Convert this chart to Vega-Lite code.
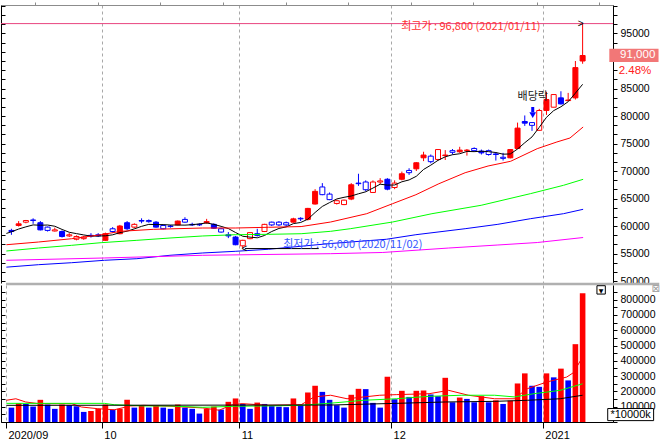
{
  "$schema": "https://vega.github.io/schema/vega-lite/v6.json",
  "autosize": {"type": "pad"},
  "padding": 0,
  "background": "#ffffff",
  "spacing": 2,
  "bounds": "flush",
  "resolve": {"scale": {"color": "independent", "stroke": "independent"}},
  "config": {
    "view": {"stroke": null},
    "font": "Liberation Sans",
    "axis": {"labelFont": "Liberation Sans", "labelColor": "#000000", "domainColor": "#000000", "tickColor": "#000000"}
  },
  "datasets": {
    "candles": [
      {"t":0,"d":"2020-09-11","o":59200,"h":59500,"l":58400,"c":59000,"v":94000},
      {"t":1,"d":"2020-09-14","o":60100,"h":60900,"l":59900,"c":60400,"v":123000},
      {"t":2,"d":"2020-09-15","o":60700,"h":61100,"l":60500,"c":61000,"v":118000},
      {"t":3,"d":"2020-09-16","o":61100,"h":61400,"l":60400,"c":61000,"v":101000},
      {"t":4,"d":"2020-09-17","o":60600,"h":60900,"l":59200,"c":59300,"v":145000},
      {"t":5,"d":"2020-09-18","o":59800,"h":59900,"l":59000,"c":59200,"v":114000},
      {"t":6,"d":"2020-09-21","o":59100,"h":59700,"l":59000,"c":59300,"v":86000},
      {"t":7,"d":"2020-09-22","o":59000,"h":59200,"l":57900,"c":58100,"v":114000},
      {"t":8,"d":"2020-09-23","o":58200,"h":58700,"l":58000,"c":58400,"v":110000},
      {"t":9,"d":"2020-09-24","o":57600,"h":58300,"l":57400,"c":58100,"v":103000},
      {"t":10,"d":"2020-09-25","o":57700,"h":58200,"l":57500,"c":58000,"v":66000},
      {"t":11,"d":"2020-09-28","o":58300,"h":58700,"l":57900,"c":58200,"v":72000},
      {"t":12,"d":"2020-09-29","o":58400,"h":58700,"l":58000,"c":58200,"v":86000},
      {"t":13,"d":"2020-10-05","o":57400,"h":58800,"l":57300,"c":58600,"v":114000},
      {"t":14,"d":"2020-10-06","o":59500,"h":59800,"l":58800,"c":59000,"v":81000},
      {"t":15,"d":"2020-10-07","o":58600,"h":60200,"l":58500,"c":60000,"v":86000},
      {"t":16,"d":"2020-10-08","o":60600,"h":60900,"l":59300,"c":59500,"v":145000},
      {"t":17,"d":"2020-10-12","o":59800,"h":60500,"l":59600,"c":60300,"v":94000},
      {"t":18,"d":"2020-10-13","o":61000,"h":61400,"l":60500,"c":60900,"v":107000},
      {"t":19,"d":"2020-10-14","o":61000,"h":61200,"l":60600,"c":60800,"v":94000},
      {"t":20,"d":"2020-10-15","o":60700,"h":60900,"l":59700,"c":59800,"v":107000},
      {"t":21,"d":"2020-10-16","o":60100,"h":60300,"l":59400,"c":59500,"v":94000},
      {"t":22,"d":"2020-10-19","o":60000,"h":60200,"l":59700,"c":59900,"v":86000},
      {"t":23,"d":"2020-10-20","o":60200,"h":61000,"l":60100,"c":60900,"v":114000},
      {"t":24,"d":"2020-10-21","o":61200,"h":61600,"l":60600,"c":60700,"v":94000},
      {"t":25,"d":"2020-10-22","o":60300,"h":60600,"l":60000,"c":60200,"v":86000},
      {"t":26,"d":"2020-10-23","o":60300,"h":60500,"l":60000,"c":60200,"v":55000},
      {"t":27,"d":"2020-10-26","o":60600,"h":61300,"l":60400,"c":60800,"v":86000},
      {"t":28,"d":"2020-10-27","o":60300,"h":60500,"l":59500,"c":59600,"v":101000},
      {"t":29,"d":"2020-10-28","o":59500,"h":59700,"l":58800,"c":58900,"v":81000},
      {"t":30,"d":"2020-10-29","o":58400,"h":58900,"l":57800,"c":58200,"v":132000},
      {"t":31,"d":"2020-10-30","o":58000,"h":58200,"l":56500,"c":56600,"v":154000},
      {"t":32,"d":"2020-11-02","o":56400,"h":57500,"l":56000,"c":57400,"v":118000},
      {"t":33,"d":"2020-11-03","o":57700,"h":58900,"l":57600,"c":58800,"v":86000},
      {"t":34,"d":"2020-11-04","o":58600,"h":59500,"l":58100,"c":58300,"v":127000},
      {"t":35,"d":"2020-11-05","o":59000,"h":60400,"l":58900,"c":60300,"v":118000},
      {"t":36,"d":"2020-11-06","o":60700,"h":60800,"l":60000,"c":60200,"v":104000},
      {"t":37,"d":"2020-11-09","o":60700,"h":60900,"l":60000,"c":60200,"v":100000},
      {"t":38,"d":"2020-11-10","o":60600,"h":60800,"l":59900,"c":60200,"v":97000},
      {"t":39,"d":"2020-11-11","o":60700,"h":61500,"l":60600,"c":61300,"v":154000},
      {"t":40,"d":"2020-11-12","o":61400,"h":61600,"l":60900,"c":61300,"v":114000},
      {"t":41,"d":"2020-11-13","o":61200,"h":63300,"l":61000,"c":63200,"v":193000},
      {"t":42,"d":"2020-11-16","o":64000,"h":66700,"l":63900,"c":66300,"v":237000},
      {"t":43,"d":"2020-11-17","o":67100,"h":67800,"l":65600,"c":65700,"v":197000},
      {"t":44,"d":"2020-11-18","o":65800,"h":66100,"l":64700,"c":64800,"v":145000},
      {"t":45,"d":"2020-11-19","o":64100,"h":64800,"l":63900,"c":64600,"v":110000},
      {"t":46,"d":"2020-11-20","o":63900,"h":64800,"l":63800,"c":64700,"v":94000},
      {"t":47,"d":"2020-11-23","o":64900,"h":67800,"l":64700,"c":67500,"v":178000},
      {"t":48,"d":"2020-11-24","o":67800,"h":69500,"l":67300,"c":67700,"v":217000},
      {"t":49,"d":"2020-11-25","o":68000,"h":68300,"l":66300,"c":66600,"v":215000},
      {"t":50,"d":"2020-11-26","o":66100,"h":68300,"l":66000,"c":68000,"v":125000},
      {"t":51,"d":"2020-11-27","o":68000,"h":68700,"l":67600,"c":68200,"v":94000},
      {"t":52,"d":"2020-11-30","o":68500,"h":68700,"l":66500,"c":66700,"v":296000},
      {"t":53,"d":"2020-12-01","o":67000,"h":68300,"l":66700,"c":67800,"v":149000},
      {"t":54,"d":"2020-12-02","o":68500,"h":69900,"l":68300,"c":69500,"v":204000},
      {"t":55,"d":"2020-12-03","o":70100,"h":70500,"l":69300,"c":69700,"v":164000},
      {"t":56,"d":"2020-12-04","o":70400,"h":71600,"l":70000,"c":71500,"v":204000},
      {"t":57,"d":"2020-12-07","o":72400,"h":73500,"l":71800,"c":72900,"v":206000},
      {"t":58,"d":"2020-12-08","o":72700,"h":73000,"l":71400,"c":71700,"v":180000},
      {"t":59,"d":"2020-12-09","o":72100,"h":74000,"l":71900,"c":73900,"v":169000},
      {"t":60,"d":"2020-12-10","o":72800,"h":73800,"l":72000,"c":72900,"v":289000},
      {"t":61,"d":"2020-12-11","o":73700,"h":74000,"l":73000,"c":73400,"v":129000},
      {"t":62,"d":"2020-12-14","o":73500,"h":74400,"l":73300,"c":73800,"v":160000},
      {"t":63,"d":"2020-12-15","o":73700,"h":74000,"l":72800,"c":73800,"v":151000},
      {"t":64,"d":"2020-12-16","o":74100,"h":74300,"l":73500,"c":73700,"v":129000},
      {"t":65,"d":"2020-12-17","o":73600,"h":73900,"l":73000,"c":73300,"v":169000},
      {"t":66,"d":"2020-12-18","o":73700,"h":73900,"l":72800,"c":73000,"v":129000},
      {"t":67,"d":"2020-12-21","o":73100,"h":73400,"l":71900,"c":73000,"v":142000},
      {"t":68,"d":"2020-12-22","o":72500,"h":73300,"l":71900,"c":72300,"v":118000},
      {"t":69,"d":"2020-12-23","o":72400,"h":74000,"l":72300,"c":73900,"v":140000},
      {"t":70,"d":"2020-12-24","o":74100,"h":78800,"l":74000,"c":77800,"v":252000},
      {"t":71,"d":"2020-12-28","o":79000,"h":80100,"l":78200,"c":78700,"v":318000},
      {"t":72,"d":"2020-12-29","o":78800,"h":78900,"l":77300,"c":78300,"v":237000},
      {"t":73,"d":"2020-12-30","o":77400,"h":81300,"l":77300,"c":81000,"v":230000},
      {"t":74,"d":"2021-01-04","o":81000,"h":84400,"l":80200,"c":83000,"v":318000},
      {"t":75,"d":"2021-01-05","o":81600,"h":83900,"l":81600,"c":83900,"v":292000},
      {"t":76,"d":"2021-01-06","o":83300,"h":84500,"l":82100,"c":82200,"v":349000},
      {"t":77,"d":"2021-01-07","o":82800,"h":84200,"l":82700,"c":82900,"v":272000},
      {"t":78,"d":"2021-01-08","o":83300,"h":90000,"l":83000,"c":88800,"v":509000},
      {"t":79,"d":"2021-01-11","o":90000,"h":96800,"l":89500,"c":91000,"v":842000}
    ],
    "ma": [
      {"t":-0.7,"k":"5","v":58650},{"t":0,"k":"5","v":58950},{"t":1,"k":"5","v":59450},{"t":2,"k":"5","v":59850},
      {"t":3,"k":"5","v":60200},{"t":4,"k":"5","v":60140},{"t":5,"k":"5","v":60180},{"t":6,"k":"5","v":59960},
      {"t":7,"k":"5","v":59380},{"t":8,"k":"5","v":58860},{"t":9,"k":"5","v":58620},{"t":10,"k":"5","v":58380},
      {"t":11,"k":"5","v":58160},{"t":12,"k":"5","v":58180},{"t":13,"k":"5","v":58220},{"t":14,"k":"5","v":58400},
      {"t":15,"k":"5","v":58800},{"t":16,"k":"5","v":59060},{"t":17,"k":"5","v":59480},{"t":18,"k":"5","v":59940},
      {"t":19,"k":"5","v":60300},{"t":20,"k":"5","v":60260},{"t":21,"k":"5","v":60260},{"t":22,"k":"5","v":60180},
      {"t":23,"k":"5","v":60180},{"t":24,"k":"5","v":60160},{"t":25,"k":"5","v":60240},{"t":26,"k":"5","v":60380},
      {"t":27,"k":"5","v":60560},{"t":28,"k":"5","v":60300},{"t":29,"k":"5","v":59940},{"t":30,"k":"5","v":59540},
      {"t":31,"k":"5","v":58820},{"t":32,"k":"5","v":58140},{"t":33,"k":"5","v":57980},{"t":34,"k":"5","v":57860},
      {"t":35,"k":"5","v":58280},{"t":36,"k":"5","v":59000},{"t":37,"k":"5","v":59560},{"t":38,"k":"5","v":59840},
      {"t":39,"k":"5","v":60440},{"t":40,"k":"5","v":60640},{"t":41,"k":"5","v":61240},{"t":42,"k":"5","v":62460},
      {"t":43,"k":"5","v":63560},{"t":44,"k":"5","v":64260},{"t":45,"k":"5","v":64920},{"t":46,"k":"5","v":65220},
      {"t":47,"k":"5","v":65460},{"t":48,"k":"5","v":65860},{"t":49,"k":"5","v":66220},{"t":50,"k":"5","v":66900},
      {"t":51,"k":"5","v":67600},{"t":52,"k":"5","v":67440},{"t":53,"k":"5","v":67460},{"t":54,"k":"5","v":68040},
      {"t":55,"k":"5","v":68380},{"t":56,"k":"5","v":69040},{"t":57,"k":"5","v":70280},{"t":58,"k":"5","v":71060},
      {"t":59,"k":"5","v":71940},{"t":60,"k":"5","v":72580},{"t":61,"k":"5","v":72960},{"t":62,"k":"5","v":73140},
      {"t":63,"k":"5","v":73560},{"t":64,"k":"5","v":73520},{"t":65,"k":"5","v":73600},{"t":66,"k":"5","v":73520},
      {"t":67,"k":"5","v":73360},{"t":68,"k":"5","v":73060},{"t":69,"k":"5","v":73100},{"t":70,"k":"5","v":74000},
      {"t":71,"k":"5","v":75140},{"t":72,"k":"5","v":76200},{"t":73,"k":"5","v":77940},{"t":74,"k":"5","v":79760},
      {"t":75,"k":"5","v":80980},{"t":76,"k":"5","v":81680},{"t":77,"k":"5","v":82600},{"t":78,"k":"5","v":84160},
      {"t":79,"k":"5","v":85760},
      {"t":-0.7,"k":"20","v":56600},{"t":3.74,"k":"20","v":57090},{"t":8.33,"k":"20","v":57690},{"t":12.41,"k":"20","v":58420},
      {"t":15.13,"k":"20","v":59040},{"t":19.66,"k":"20","v":59400},{"t":26.46,"k":"20","v":59640},{"t":30.95,"k":"20","v":59640},
      {"t":35.54,"k":"20","v":59770},{"t":40.07,"k":"20","v":59900},{"t":44.15,"k":"20","v":60730},{"t":49.14,"k":"20","v":62240},
      {"t":52.72,"k":"20","v":64060},{"t":55.94,"k":"20","v":65690},{"t":59.12,"k":"20","v":67690},{"t":62.75,"k":"20","v":69690},
      {"t":65.92,"k":"20","v":70910},{"t":69.05,"k":"20","v":71770},{"t":72.72,"k":"20","v":74060},{"t":75.44,"k":"20","v":75280},
      {"t":77.25,"k":"20","v":76000},{"t":79.07,"k":"20","v":78000},
      {"t":-0.7,"k":"60","v":55460},{"t":3.74,"k":"60","v":56000},{"t":8.33,"k":"60","v":56490},{"t":12.41,"k":"60","v":56970},
      {"t":17.35,"k":"60","v":57400},{"t":21.93,"k":"60","v":57820},{"t":26.46,"k":"60","v":58190},{"t":30.95,"k":"60","v":58420},
      {"t":35.54,"k":"60","v":58490},{"t":40.07,"k":"60","v":58600},{"t":44.15,"k":"60","v":59040},{"t":46.87,"k":"60","v":59510},
      {"t":52.72,"k":"60","v":60730},{"t":58.16,"k":"60","v":62240},{"t":64.97,"k":"60","v":63770},{"t":71.77,"k":"60","v":65880},
      {"t":76.35,"k":"60","v":67400},{"t":79.07,"k":"60","v":68490},
      {"t":-0.7,"k":"120","v":52520},{"t":3.74,"k":"120","v":52970},{"t":8.33,"k":"120","v":53330},{"t":12.86,"k":"120","v":53770},
      {"t":17.35,"k":"120","v":54060},{"t":21.93,"k":"120","v":54680},{"t":26.46,"k":"120","v":55100},{"t":30.95,"k":"120","v":55400},
      {"t":35.54,"k":"120","v":55770},{"t":44.15,"k":"120","v":56820},{"t":51.86,"k":"120","v":57590},{"t":55.94,"k":"120","v":58420},
      {"t":62.75,"k":"120","v":59510},{"t":67.28,"k":"120","v":60310},{"t":71.77,"k":"120","v":61330},{"t":76.35,"k":"120","v":62240},
      {"t":79.07,"k":"120","v":63040},
      {"t":-0.7,"k":"240","v":53770},{"t":12.86,"k":"240","v":54190},{"t":26.46,"k":"240","v":54680},{"t":44.15,"k":"240","v":54970},
      {"t":51.36,"k":"240","v":55190},{"t":60.48,"k":"240","v":56000},{"t":67.28,"k":"240","v":56550},{"t":72.73,"k":"240","v":57000},
      {"t":79.07,"k":"240","v":57910}
    ],
    "vma": [
      {"t":-0.7,"k":"5","v":142000},{"t":0.61,"k":"5","v":152000},{"t":1.97,"k":"5","v":131000},{"t":3.74,"k":"5","v":120000},
      {"t":8.33,"k":"5","v":120000},{"t":9.69,"k":"5","v":98000},{"t":11.95,"k":"5","v":87000},{"t":14.22,"k":"5","v":80000},
      {"t":16.49,"k":"5","v":105000},{"t":18.3,"k":"5","v":109000},{"t":21.93,"k":"5","v":103000},{"t":26.46,"k":"5","v":92000},
      {"t":28.73,"k":"5","v":77000},{"t":30.54,"k":"5","v":113000},{"t":31.9,"k":"5","v":120000},{"t":35.54,"k":"5","v":109000},
      {"t":40.07,"k":"5","v":113000},{"t":41.88,"k":"5","v":164000},{"t":44.15,"k":"5","v":175000},{"t":46.42,"k":"5","v":152000},
      {"t":50.95,"k":"5","v":175000},{"t":53.22,"k":"5","v":179000},{"t":57.76,"k":"5","v":185000},{"t":60.48,"k":"5","v":207000},
      {"t":63.2,"k":"5","v":175000},{"t":66.83,"k":"5","v":152000},{"t":69.55,"k":"5","v":152000},{"t":71.36,"k":"5","v":218000},
      {"t":74.08,"k":"5","v":262000},{"t":76.8,"k":"5","v":294000},{"t":77.71,"k":"5","v":322000},{"t":79,"k":"5","v":425000},
      {"t":-0.7,"k":"20","v":122000},{"t":12.86,"k":"20","v":122000},{"t":14.22,"k":"20","v":113000},{"t":18.3,"k":"20","v":105000},
      {"t":21.93,"k":"20","v":105000},{"t":26.46,"k":"20","v":96000},{"t":30.99,"k":"20","v":103000},{"t":35.54,"k":"20","v":105000},
      {"t":40.07,"k":"20","v":109000},{"t":44.15,"k":"20","v":123000},{"t":48.68,"k":"20","v":142000},{"t":53.22,"k":"20","v":152000},
      {"t":57.76,"k":"20","v":168000},{"t":62.29,"k":"20","v":175000},{"t":66.83,"k":"20","v":175000},{"t":69.55,"k":"20","v":164000},
      {"t":72.27,"k":"20","v":185000},{"t":75.89,"k":"20","v":207000},{"t":79,"k":"20","v":250000},
      {"t":-0.7,"k":"60","v":109000},{"t":44.15,"k":"60","v":111000},{"t":53.22,"k":"60","v":122000},{"t":60.03,"k":"60","v":131000},
      {"t":66.83,"k":"60","v":135000},{"t":71.36,"k":"60","v":142000},{"t":75.89,"k":"60","v":152000},{"t":79,"k":"60","v":175000}
    ]
  },
  "vconcat": [
    {
      "width": 612,
      "height": 278,
      "resolve": {"axis": {"x": "independent", "y": "independent"}},
      "layer": [
        {
          "data": {"name": "candles"},
          "mark": {"type": "rule", "strokeWidth": 1},
          "encoding": {
            "x": {"field": "t", "type": "quantitative", "scale": {"domain": [-0.75, 82.51], "nice": false, "zero": false},
              "axis": {"orient": "top", "title": null, "values": [3.28, 11.94, 20.61, 29.28, 37.95, 46.6, 55.27, 63.88, 72.63, 81.25],
                "labels": false, "tickSize": 3, "grid": false, "domainColor": "#8c8c8c", "tickColor": "#8c8c8c"}},
            "y": {"field": "l", "type": "quantitative", "scale": {"domain": [49641, 100181], "nice": false, "zero": false},
              "axis": {"orient": "right", "title": null,
                "values": [50000, 51666.67, 53333.33, 55000, 56666.67, 58333.33, 60000, 61666.67, 63333.33, 65000, 66666.67, 68333.33, 70000, 71666.67, 73333.33, 75000, 76666.67, 78333.33, 80000, 81666.67, 83333.33, 85000, 86666.67, 88333.33, 90000, 91666.67, 93333.33, 95000, 96666.67, 98333.33, 100000],
                "labelExpr": "datum.value <= 95001 && datum.value != 90000 && abs(datum.value % 5000) < 0.5 ? format(datum.value, 'd') : ''",
                "tickSize": 4, "labelPadding": 3, "labelFontSize": 10.5, "labelOverlap": false, "labelFlush": false, "grid": false}},
            "y2": {"field": "h"},
            "color": {"condition": {"test": "datum.c >= datum.o", "value": "#ff0000"}, "value": "#0000ff"}
          }
        },
        {
          "data": {"name": "candles"},
          "transform": [
            {"window": [{"op": "lag", "field": "v", "as": "pv"}], "sort": [{"field": "t"}]},
            {"calculate": "datum.pv != null && datum.v < datum.pv", "as": "hollow"}
          ],
          "mark": {"type": "bar", "width": 5, "strokeWidth": 1},
          "encoding": {
            "x": {"field": "t", "type": "quantitative",
              "axis": {"orient": "bottom", "title": null, "values": [12.5, 31.5, 52.5, 73.5], "labels": false, "ticks": false,
                "domain": false, "grid": true, "gridColor": "#a8a8a8", "gridDash": [3, 3]}},
            "y": {"field": "o", "type": "quantitative",
              "axis": {"orient": "left", "title": null,
                "values": [50000, 51666.67, 53333.33, 55000, 56666.67, 58333.33, 60000, 61666.67, 63333.33, 65000, 66666.67, 68333.33, 70000, 71666.67, 73333.33, 75000, 76666.67, 78333.33, 80000, 81666.67, 83333.33, 85000, 86666.67, 88333.33, 90000, 91666.67, 93333.33, 95000, 96666.67, 98333.33, 100000],
                "labels": false, "tickSize": -4, "grid": false}},
            "y2": {"field": "c"},
            "fill": {"condition": [{"test": "datum.hollow", "value": "#ffffff"}, {"test": "datum.c >= datum.o", "value": "#ff0000"}], "value": "#0000ff"},
            "stroke": {"condition": {"test": "datum.c >= datum.o", "value": "#ff0000"}, "value": "#0000ff"}
          }
        },
        {
          "data": {"name": "ma"},
          "mark": {"type": "line", "strokeWidth": 1},
          "encoding": {
            "x": {"field": "t", "type": "quantitative", "axis": null},
            "y": {"field": "v", "type": "quantitative", "axis": null},
            "color": {"field": "k", "type": "nominal", "legend": null,
              "scale": {"domain": ["5", "20", "60", "120", "240"], "range": ["#000000", "#ff0000", "#00ff00", "#0000ff", "#ff00ff"]}}
          }
        },
        {
          "data": {"values": [{}]},
          "mark": {"type": "rule", "color": "#e8457f", "strokeWidth": 1},
          "encoding": {"y": {"datum": 96800, "axis": null}}
        },
        {
          "data": {"values": [{}]},
          "mark": {"type": "text", "text": "최고가 : 96,800 (2021/01/11)", "font": "Noto Sans CJK KR", "fontSize": 11, "color": "#ff3030", "align": "right", "baseline": "middle"},
          "encoding": {"x": {"datum": 73.17, "axis": null}, "y": {"datum": 96180, "axis": null}}
        },
        {
          "data": {"values": [{}]},
          "mark": {"type": "text", "text": ">", "fontSize": 10, "color": "#000000", "align": "center", "baseline": "middle"},
          "encoding": {"x": {"datum": 78.73, "axis": null}, "y": {"datum": 96800, "axis": null}}
        },
        {
          "data": {"values": [{}]},
          "mark": {"type": "rule", "color": "#000000", "strokeWidth": 1},
          "encoding": {"x": {"datum": 32.3, "axis": null}, "x2": {"datum": 42.5}, "y": {"datum": 55900, "axis": null}}
        },
        {
          "data": {"values": [{}]},
          "mark": {"type": "text", "text": "<", "fontSize": 10, "color": "#000000", "align": "center", "baseline": "middle"},
          "encoding": {"x": {"datum": 32.24, "axis": null}, "y": {"datum": 55900, "axis": null}}
        },
        {
          "data": {"values": [{}]},
          "mark": {"type": "text", "text": "최저가 : 56,000 (2020/11/02)", "font": "Noto Sans CJK KR", "fontSize": 11, "color": "#3355ff", "align": "left", "baseline": "middle"},
          "encoding": {"x": {"datum": 37.58, "axis": null}, "y": {"datum": 56500, "axis": null}}
        },
        {
          "data": {"values": [{}]},
          "mark": {"type": "text", "text": "배당락", "font": "Noto Sans CJK KR", "fontSize": 11, "color": "#202020", "align": "center", "baseline": "middle"},
          "encoding": {"x": {"datum": 72.1, "axis": null}, "y": {"datum": 83456, "axis": null}}
        },
        {
          "data": {"values": [{}]},
          "mark": {"type": "rule", "color": "#0000ff", "strokeWidth": 3},
          "encoding": {"x": {"datum": 72.1, "axis": null}, "y": {"datum": 81637, "axis": null}, "y2": {"datum": 80700}}
        },
        {
          "data": {"values": [{}]},
          "mark": {"type": "point", "shape": "triangle-down", "filled": true, "size": 45, "color": "#0000ff", "opacity": 1},
          "encoding": {"x": {"datum": 72.1, "axis": null}, "y": {"datum": 80150, "axis": null}}
        },
        {
          "data": {"values": [{}]},
          "mark": {"type": "rect", "color": "#f27777"},
          "encoding": {"x": {"datum": 82.69, "axis": null}, "x2": {"datum": 89.5}, "y": {"datum": 92237, "axis": null}, "y2": {"datum": 89819}}
        },
        {
          "data": {"values": [{}]},
          "mark": {"type": "text", "text": "91,000", "fontSize": 11.5, "color": "#ffffff", "align": "right", "baseline": "middle"},
          "encoding": {"x": {"datum": 89.05, "axis": null}, "y": {"datum": 91037, "axis": null}}
        },
        {
          "data": {"values": [{}]},
          "mark": {"type": "text", "text": "2.48%", "fontSize": 11.5, "color": "#ff2020", "align": "right", "baseline": "middle"},
          "encoding": {"x": {"datum": 88.5, "axis": null}, "y": {"datum": 88250, "axis": null}}
        },
        {
          "data": {"values": [{}]},
          "mark": {"type": "rule", "color": "#b0b0b0", "strokeWidth": 2.5},
          "encoding": {"x": {"datum": -0.75, "axis": null}, "x2": {"datum": 89.6}, "y": {"datum": 49460, "axis": null}}
        }
      ]
    },
    {
      "width": 612,
      "height": 137,
      "resolve": {"axis": {"x": "independent", "y": "independent"}},
      "layer": [
        {
          "data": {"name": "candles"},
          "transform": [
            {"window": [{"op": "lag", "field": "v", "as": "pv"}], "sort": [{"field": "t"}]}
          ],
          "mark": {"type": "bar", "width": 5.6},
          "encoding": {
            "x": {"field": "t", "type": "quantitative", "scale": {"domain": [-0.75, 82.51], "nice": false, "zero": false},
              "axis": {"orient": "bottom", "title": null, "values": [-0.75, 12.5, 31.5, 52.5, 73.5],
                "labelExpr": "datum.value < 0 ? '2020/09' : datum.value < 20 ? '10' : datum.value < 40 ? '11' : datum.value < 60 ? '12' : '2021'",
                "labelAlign": "left", "labelOffset": 2, "labelPadding": 1, "tickSize": 6, "labelFontSize": 11,
                "labelFlush": false, "labelOverlap": false, "grid": true, "gridColor": "#a8a8a8", "gridDash": [3, 3]}},
            "y": {"field": "v", "type": "quantitative", "scale": {"domain": [0, 896000], "nice": false},
              "axis": {"orient": "right", "title": null,
                "values": [0, 50000, 100000, 150000, 200000, 250000, 300000, 350000, 400000, 450000, 500000, 550000, 600000, 650000, 700000, 750000, 800000, 850000],
                "labelExpr": "datum.value > 0 && datum.value % 100000 == 0 ? format(datum.value, 'd') : ''",
                "tickSize": 4, "labelPadding": 3, "labelFontSize": 10.5, "labelOverlap": false, "labelFlush": false, "grid": false}},
            "color": {"condition": {"test": "datum.pv != null && datum.v >= datum.pv", "value": "#ff0000"}, "value": "#0000ff"}
          }
        },
        {
          "data": {"name": "vma"},
          "mark": {"type": "line", "strokeWidth": 1},
          "encoding": {
            "x": {"field": "t", "type": "quantitative", "axis": null},
            "y": {"field": "v", "type": "quantitative",
              "axis": {"orient": "left", "title": null,
                "values": [0, 50000, 100000, 150000, 200000, 250000, 300000, 350000, 400000, 450000, 500000, 550000, 600000, 650000, 700000, 750000, 800000, 850000],
                "labels": false, "tickSize": -4, "grid": false}},
            "stroke": {"field": "k", "type": "nominal", "legend": null,
              "scale": {"domain": ["5", "20", "60"], "range": ["#ff0000", "#00ff00", "#000000"]}}
          }
        },
        {
          "data": {"values": [{}]},
          "mark": {"type": "rect", "fill": "#ffffff", "stroke": "#000000", "strokeWidth": 1},
          "encoding": {"x": {"datum": 82.47, "axis": null}, "x2": {"datum": 88.82}, "y": {"datum": 88000, "axis": null}, "y2": {"datum": 9000}}
        },
        {
          "data": {"values": [{}]},
          "mark": {"type": "text", "text": "*10000k", "fontSize": 11, "color": "#000000", "align": "center", "baseline": "middle"},
          "encoding": {"x": {"datum": 85.64, "axis": null}, "y": {"datum": 48000, "axis": null}}
        },
        {
          "data": {"values": [{}]},
          "mark": {"type": "point", "shape": "square", "size": 70, "fill": "#ffffff", "stroke": "#000000", "strokeWidth": 1, "opacity": 1},
          "encoding": {"x": {"datum": 81.56, "axis": null}, "y": {"datum": 864000, "axis": null}}
        },
        {
          "data": {"values": [{}]},
          "mark": {"type": "text", "text": "▼", "font": "DejaVu Sans", "fontSize": 6, "color": "#000000", "align": "center", "baseline": "middle", "dy": 1},
          "encoding": {"x": {"datum": 81.56, "axis": null}, "y": {"datum": 864000, "axis": null}}
        },
        {
          "data": {"values": [{}]},
          "mark": {"type": "text", "text": "⊠", "font": "DejaVu Sans", "fontSize": 10, "color": "#9a9a9a", "align": "center", "baseline": "middle"},
          "encoding": {"x": {"datum": 89.1, "axis": null}, "y": {"datum": 867000, "axis": null}}
        }
      ]
    }
  ]
}
